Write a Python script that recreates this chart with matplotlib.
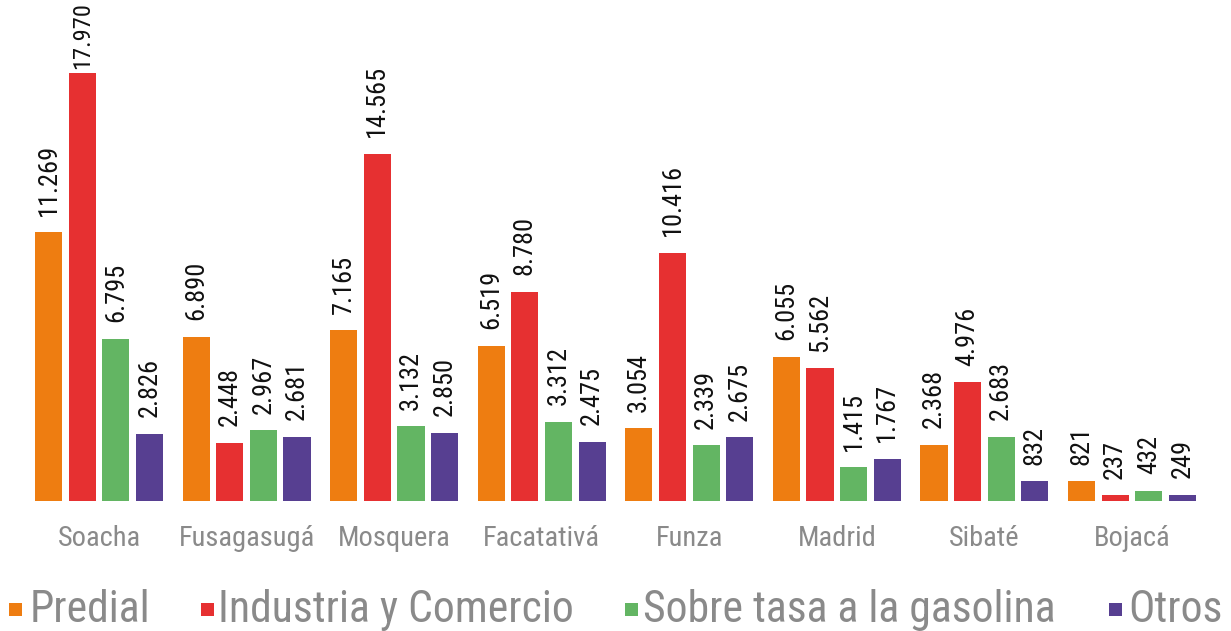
import matplotlib

matplotlib.use("Agg")

import matplotlib.pyplot as plt
from matplotlib import font_manager
from matplotlib.patches import Rectangle
import numpy as np

municipios = ["Soacha", "Fusagasugá", "Mosquera", "Facatativá",
              "Funza", "Madrid", "Sibaté", "Bojacá"]
series_names = ["Predial", "Industria y Comercio",
                "Sobre tasa a la gasolina", "Otros"]
predial = [11269, 6890, 7165, 6519, 3054, 6055, 2368, 821]
industria = [17970, 2448, 14565, 8780, 10416, 5562, 4976, 237]
sobretasa = [6795, 2967, 3132, 3312, 2339, 1415, 2683, 432]
otros = [2826, 2681, 2850, 2475, 2675, 1767, 832, 249]

COLORS = ["#EE7D11", "#E63031", "#63B563", "#573F91"]
GRAY = "#8A8A8A"
LABEL_SIZE = 19
LABEL_GAP = 12  # points between bar top and value label


def pick_font(*names):
    for name in names:
        try:
            font_manager.findfont(font_manager.FontProperties(family=name),
                                  fallback_to_default=False)
            return name
        except ValueError:
            continue
    return "DejaVu Sans"


NARROW = pick_font("Roboto Condensed", "Archivo Narrow", "Liberation Sans")


def fmt(v):
    return f"{v:,}".replace(",", ".")


fig = plt.figure(figsize=(12.31, 6.31), dpi=100)
ax = fig.add_axes([0, 130 / 631, 1, 501 / 631])

x = np.arange(len(municipios))
slot = 0.228
width = 0.184
labels = []
all_series = [predial, industria, sobretasa, otros]
for i, vals in enumerate(all_series):
    pos = x + (i - 1.5) * slot
    bars = ax.bar(pos, vals, width=width, color=COLORS[i], linewidth=0)
    for rect, v in zip(bars, vals):
        t = ax.annotate(fmt(v), (rect.get_x() + rect.get_width() / 2, v),
                        xytext=(0, LABEL_GAP), textcoords="offset points",
                        rotation=90, ha="center", va="bottom",
                        fontsize=LABEL_SIZE, family=NARROW, color="#111111")
        labels.append(t)

ax.set_xlim(-0.671, len(municipios) - 1 + 0.671)
ax.set_ylim(0, 21020)
ax.set_xticks(x)
ax.set_xticklabels(municipios, family=NARROW, fontsize=20.5, color=GRAY)
ax.tick_params(axis="x", length=0, pad=17)
ax.set_yticks([])
for side in ax.spines.values():
    side.set_visible(False)

# labels on the tallest bars would run past the top edge: tighten and shrink
fig.canvas.draw()
renderer = fig.canvas.get_renderer()
top = fig.bbox.height - 2
for t in labels:
    bb = t.get_window_extent(renderer)
    if bb.y1 > top:
        t.set_position((0, 3))
        bb = t.get_window_extent(renderer)
        if bb.y1 > top:
            scale = (top - bb.y0) / bb.height
            t.set_fontsize(LABEL_SIZE * scale)

# legend row along the bottom edge
text_x = [30, 218, 643, 1128]
box_x = [9, 201, 625, 1109]
for name, color, tx, bx in zip(series_names, COLORS, text_x, box_x):
    fig.add_artist(Rectangle((bx / 1231, (631 - 616) / 631), 13 / 1231, 13 / 631,
                             transform=fig.transFigure, color=color, lw=0))
    fig.text(tx / 1231, (631 - 622) / 631, name, family=NARROW, fontsize=31.5,
             color=GRAY, ha="left", va="baseline")

fig.savefig("out.png", dpi=100)
